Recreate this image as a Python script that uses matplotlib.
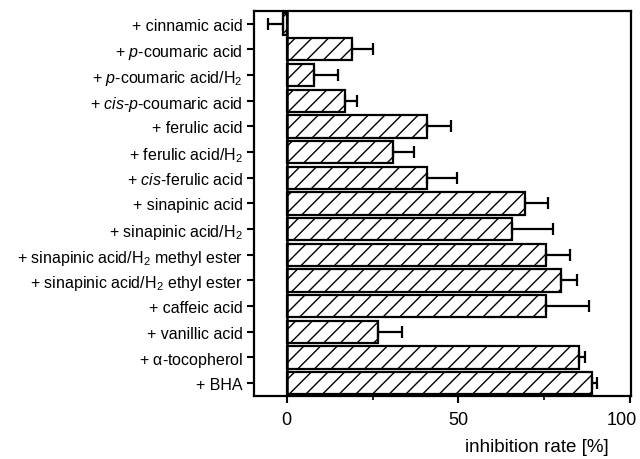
import numpy as np
import matplotlib
matplotlib.use('Agg')
from matplotlib import pyplot as plt
from matplotlib.transforms import ScaledTranslation

plt.rcParams['font.family'] = ['Liberation Sans', 'DejaVu Sans']
plt.rcParams['mathtext.fontset'] = 'custom'
plt.rcParams['mathtext.rm'] = 'Liberation Sans'
plt.rcParams['mathtext.it'] = 'Liberation Sans:italic'
plt.rcParams['hatch.linewidth'] = 1.0

labels = [
    '+ cinnamic acid',
    '+ $\\mathit{p}$-coumaric acid',
    '+ $\\mathit{p}$-coumaric acid/H$\\mathregular{_2}$',
    '+ $\\mathit{cis}$-$\\mathit{p}$-coumaric acid',
    '+ ferulic acid',
    '+ ferulic acid/H$\\mathregular{_2}$',
    '+ $\\mathit{cis}$-ferulic acid',
    '+ sinapinic acid',
    '+ sinapinic acid/H$\\mathregular{_2}$',
    '+ sinapinic acid/H$\\mathregular{_2}$ methyl ester',
    '+ sinapinic acid/H$\\mathregular{_2}$ ethyl ester',
    '+ caffeic acid',
    '+ vanillic acid',
    '+ $\\mathregular{\\alpha}$-tocopherol',
    '+ BHA',
]
values = [-1, 19, 8, 17, 41, 31, 41, 69.5, 65.5, 75.5, 80, 75.5, 26.5, 85, 89]
errors = [4.5, 6, 7, 3.5, 7, 6, 8.5, 6.5, 12, 7, 4.5, 12.5, 7, 2, 1.5]

fig = plt.figure(figsize=(6.4, 4.6), dpi=100)
ax = fig.add_axes([0.397, 0.137, 0.589, 0.837])

y = np.arange(len(labels))
vals = np.array(values)
errs = np.array(errors)
# error bar only on the outer side of each bar
lower = np.where(vals < 0, errs, 0)
upper = np.where(vals < 0, 0, errs)

ax.barh(y, vals, height=0.86, color='white', edgecolor='black',
        linewidth=1.6, hatch='//', zorder=2)
ax.errorbar(vals, y, xerr=[lower, upper], fmt='none', ecolor='black',
            elinewidth=1.6, capsize=4.5, capthick=1.6, zorder=3)
ax.axvline(0, color='black', linewidth=1.8, zorder=4)

ax.set_ylim(14.5, -0.5)
ax.set_xlim(-9.5, 100.3)
ax.set_yticks(y)
ax.set_yticklabels(labels, fontsize=11.5)
ax.set_xticks([0, 50, 100])
ax.set_xticks([25, 75], minor=True)
ax.tick_params(axis='x', labelsize=13, length=5, width=1.5, pad=6)
ax.tick_params(axis='x', which='minor', length=3, width=1.2)
ax.tick_params(axis='y', length=5, width=1.5, pad=3)
for s in ax.spines.values():
    s.set_linewidth(1.6)

# "100" sits a little left of its tick so it stays inside the figure
fig.canvas.draw()
last = ax.get_xticklabels()[-1]
last.set_transform(last.get_transform() + ScaledTranslation(-8 / 100, 0, fig.dpi_scale_trans))

ax.set_xlabel('inhibition rate [%]', fontsize=13.5, ha='right', va='center')
ax.xaxis.set_label_coords(0.942, -0.13)

fig.savefig('out.png', dpi=100)
